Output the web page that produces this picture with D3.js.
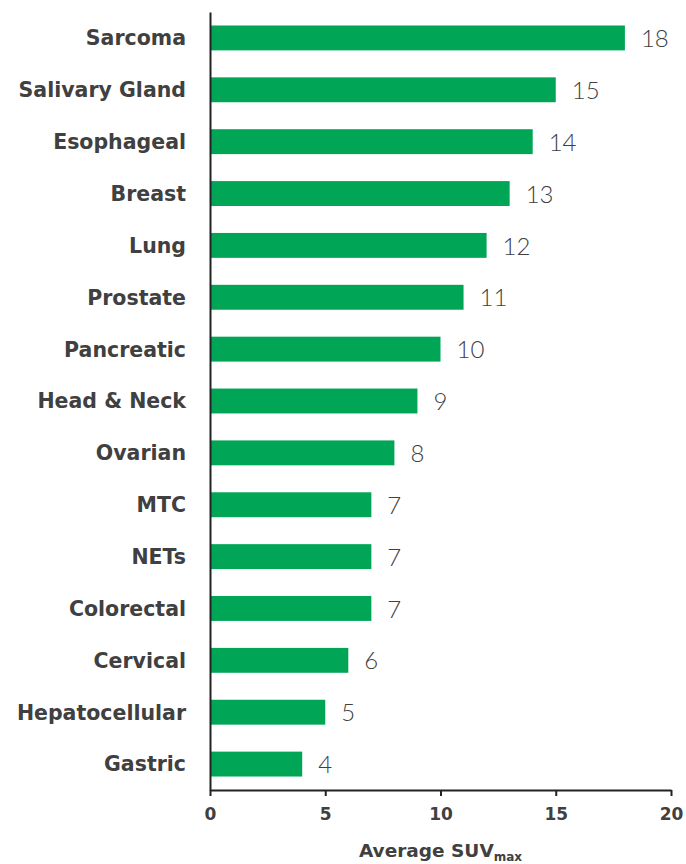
<!DOCTYPE html>
<html>
<head>
<meta charset="utf-8">
<script src="https://cdn.jsdelivr.net/npm/d3@7"></script>
<style>
  html, body { margin: 0; padding: 0; background: #ffffff; }
  svg { display: block; }
</style>
</head>
<body>
<svg id="chart" width="686" height="864"></svg>
<script>
// Average SUVmax by tumour type
const categories = ["Sarcoma", "Salivary Gland", "Esophageal", "Breast", "Lung", "Prostate",
  "Pancreatic", "Head & Neck", "Ovarian", "MTC", "NETs", "Colorectal", "Cervical",
  "Hepatocellular", "Gastric"];
const values = [18, 15, 14, 13, 12, 11, 10, 9, 8, 7, 7, 7, 6, 5, 4];
const xTicks = [0, 5, 10, 15, 20];

const svg = d3.select("#chart");
const margin = { left: 210, right: 15, top: 12, bottom: 74 };
const W = 686, H = 864;

const x = d3.scaleLinear().domain([0, 20]).range([margin.left, W - margin.right]);
const y = d3.scaleBand().domain(categories)
  .range([margin.top, H - margin.bottom])
  .paddingInner(0.52).paddingOuter(0.26);

const boldFont = "'DejaVu Sans', 'Noto Sans', sans-serif";
const lightFont = "'Lato', 'Noto Sans', sans-serif";
const textColor = "#404040";

// bars
svg.append("g").selectAll("rect")
  .data(categories)
  .join("rect")
  .attr("x", x(0))
  .attr("y", d => y(d))
  .attr("width", (d, i) => x(values[i]) - x(0))
  .attr("height", y.bandwidth())
  .attr("fill", "#00a556");

// value labels
svg.append("g").selectAll("text")
  .data(categories)
  .join("text")
  .attr("x", (d, i) => x(values[i]) + 16)
  .attr("y", d => y(d) + y.bandwidth() / 2)
  .attr("dy", "0.38em")
  .attr("font-family", lightFont)
  .attr("font-weight", 300)
  .attr("font-size", 24)
  .attr("fill", textColor)
  .text((d, i) => values[i]);

// category axis
const yAxis = svg.append("g")
  .attr("transform", `translate(${x(0)},0)`)
  .call(d3.axisLeft(y).tickSize(0).tickPadding(24));
yAxis.select(".domain").attr("stroke", "#222").attr("stroke-width", 2);
yAxis.selectAll("text")
  .attr("font-family", boldFont)
  .attr("font-weight", 700)
  .attr("font-size", 20.5)
  .attr("fill", textColor)
  .attr("dy", "0.36em");

// value axis
const xAxis = svg.append("g")
  .attr("transform", `translate(0,${H - margin.bottom})`)
  .call(d3.axisBottom(x).tickValues(xTicks).tickSize(6).tickPadding(12).tickSizeOuter(0));
xAxis.select(".domain").attr("stroke", "#222").attr("stroke-width", 2);
xAxis.selectAll(".tick line").attr("stroke", "#222").attr("stroke-width", 2);
xAxis.selectAll("text")
  .attr("font-family", boldFont)
  .attr("font-weight", 700)
  .attr("font-size", 17)
  .attr("fill", textColor);

// axis title with subscript
const title = svg.append("text")
  .attr("x", (x(0) + x(20)) / 2)
  .attr("y", 857)
  .attr("text-anchor", "middle")
  .attr("font-family", boldFont)
  .attr("font-weight", 700)
  .attr("font-size", 18.5)
  .attr("fill", textColor);
title.append("tspan").text("Average SUV");
title.append("tspan").attr("font-size", 12).attr("dy", 4).text("max");
</script>
</body>
</html>
